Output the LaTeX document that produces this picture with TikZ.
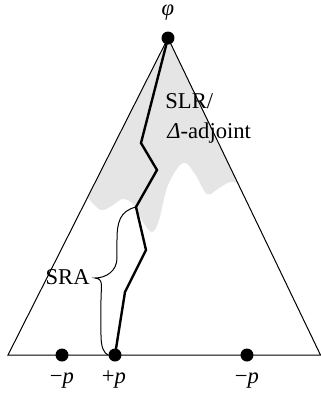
\documentclass[tikz,border=0pt]{standalone}
\usepackage{fontspec}
\setmainfont{Liberation Serif}
\begin{document}
\begin{tikzpicture}[x=0.5pt,y=-0.5pt,
  dot/.style={circle,fill=black,inner sep=0pt,minimum size=6.5pt},
  lbl/.style={inner sep=0pt,font=\fontsize{11.3}{14}\selectfont},
  thinline/.style={line width=0.5pt},
  route/.style={line width=1.2pt,line join=miter}]
\useasboundingbox (0,0) rectangle (321,393);
% shaded zone below the apex
\fill[black!10] (168,38) -- (88,198)
  -- plot[smooth,tension=0.6] coordinates {(88,198) (101,210) (113,205) (123,199)
    (134,205) (143,222) (152,232) (159,220) (168,185) (183,163) (195,174)
    (207,194) (219,188) (230,182) (238,183)} -- cycle;
% corners of the triangle
\coordinate (bl) at (8,355);
\coordinate (br) at (320.5,355);
% the points
\node[dot] (top) at (168,38) {};
\node[dot] (m1) at (62,355) {};
\node[dot] (pp) at (115,355) {};
\node[dot] (m2) at (247,355) {};
\draw[thinline] (top.center) -- (bl) -- (br) -- cycle;
% the route from +p up to the apex
\coordinate (r1) at (125,292);
\coordinate (r2) at (146,250);
\coordinate (r3) at (136,207);
\coordinate (r4) at (157,170);
\coordinate (r5) at (141,143);
\draw[route] (pp.center) -- (r1) -- (r2) -- (r3) -- (r4) -- (r5) -- (top.center);
% brace
\coordinate (tip) at (95,278);
\draw[thinline] (r3) .. controls (120,211) and (117,222) .. (117,240)
  -- (117,258) .. controls (117,271) and (106,278) .. (tip)
  .. controls (104,279) and (101,286) .. (101,300)
  -- (101,335) .. controls (101,348) and (104,353) .. (pp.west);
% labels
\node[lbl] (phi) at (168,13) {\textit{φ}};
\node[lbl,anchor=base west] (slr) at (165,108) {SLR/};
\node[lbl,anchor=base west] (adj) at (167,138) {\textit{Δ}-adjoint};
\node[lbl,anchor=east] (sra) at (90,277) {SRA};
\node[lbl,anchor=base] (l1) at (62,383) {−\textit{p}};
\node[lbl,anchor=base] (l2) at (114,383) {+\textit{p}};
\node[lbl,anchor=base] (l3) at (247,383) {−\textit{p}};
\end{tikzpicture}
\end{document}
